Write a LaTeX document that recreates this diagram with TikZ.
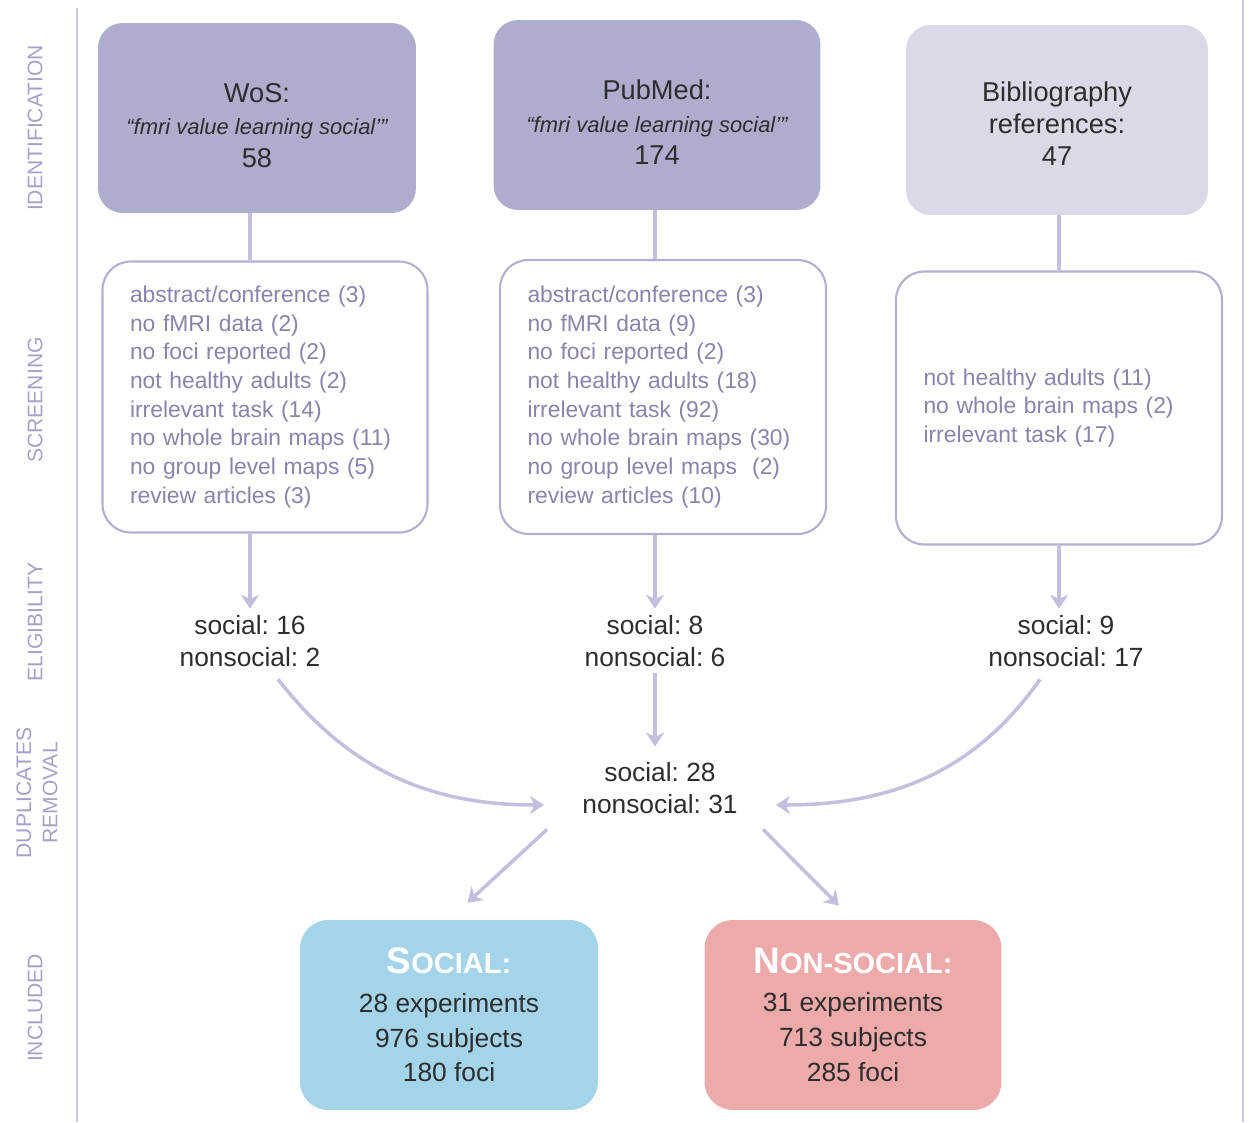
\documentclass[tikz,border=0pt]{standalone}
\usepackage{fontspec}
\setmainfont{Liberation Sans}
\usepackage{tikz}
\usetikzlibrary{arrows.meta}
\frenchspacing

\definecolor{srcdark}{RGB}{174,173,205}
\definecolor{srclight}{RGB}{218,218,231}
\definecolor{edgelav}{RGB}{180,174,210}
\definecolor{arrowlav}{RGB}{196,191,222}
\definecolor{framelav}{RGB}{205,200,226}
\definecolor{screentext}{RGB}{140,130,172}
\definecolor{phasetext}{RGB}{168,160,202}
\definecolor{darktext}{RGB}{45,45,45}
\definecolor{socialblue}{RGB}{164,212,233}
\definecolor{nonsocialred}{RGB}{237,170,170}

\newcommand{\toppad}{\rule{0pt}{19.5pt}}

\tikzset{
	source/.style={rounded corners=14pt, fill=srcdark, text=darktext, align=center, minimum height=3.8cm, font=\fontsize{15.5}{18.3}\selectfont},
	screen/.style={draw=edgelav, line width=1.2pt, rounded corners=16pt, fill=white, text=screentext, align=left, inner xsep=0.55cm, font=\fontsize{13}{16.3}\selectfont},
	count/.style={text=darktext, align=center, font=\fontsize{15}{18.7}\selectfont},
	result/.style={rounded corners=16pt, text=darktext, align=center, minimum height=3.8cm, font=\fontsize{15}{19.9}\selectfont},
	phase/.style={rotate=90, text=phasetext, align=center, font=\fontsize{12}{15}\selectfont},
	flow/.style={draw=arrowlav, line width=2pt},
	frameline/.style={draw=framelav, line width=1.2pt},
}

\begin{document}
\begin{tikzpicture}[x=0.02cm, y=-0.02cm, >={Stealth[length=8pt, width=10.5pt, inset=2.5pt]}]
	
	\useasboundingbox (0,0) rectangle (1250,1122);
	
	\draw[frameline] (77,8) -- (77,1122);
	\draw[frameline] (1243,0) -- (1243,1122);
	
	\node[phase] (identLbl) at (35,128) {IDENTIFICATION};
	
	\node[phase] (screenLbl) at (35,400) {SCREENING};
	
	\node[phase] (eligLbl) at (35,622) {ELIGIBILITY};
	
	\node[phase] (dupLbl) at (37,793) {DUPLICATES\\REMOVAL};
	
	\node[phase] (inclLbl) at (35,1008) {INCLUDED};
	
	\node[source, minimum width=6.36cm] (wos) at (257,118) {\toppad WoS:\\{\fontsize{12.5}{18.3}\selectfont\itshape “fmri value learning social’”}\\58};
	
	\node[source, minimum width=6.54cm] (pubmed) at (657,115) {\toppad PubMed:\\{\fontsize{12.5}{18.3}\selectfont\itshape “fmri value learning social’”}\\174};
	
	\node[source, fill=srclight, minimum width=6.04cm] (biblio) at (1057,120) {\rule{0pt}{15pt}Bibliography\\references:\\47};
	
	\node[screen, text width=5.4cm, minimum height=5.42cm] (wosScreen) at (265,397) {abstract/conference (3)\\no fMRI data (2)\\no foci reported (2)\\not healthy adults (2)\\irrelevant task (14)\\no whole brain maps (11)\\no group level maps (5)\\review articles (3)};
	
	\node[screen, text width=5.42cm, minimum height=5.48cm] (pubScreen) at (663,397) {abstract/conference (3)\\no fMRI data (9)\\no foci reported (2)\\not healthy adults (18)\\irrelevant task (92)\\no whole brain maps (30)\\no group level maps\ \ (2)\\review articles (10)};
	
	\node[screen, text width=5.42cm, minimum height=5.46cm] (bibScreen) at (1059,408) {not healthy adults (11)\\no whole brain maps (2)\\irrelevant task (17)};
	
	\node[count] (wosElig) at (250,641) {social: 16\\nonsocial: 2};
	
	\node[count] (pubElig) at (655,641) {social: 8\\nonsocial: 6};
	
	\node[count] (bibElig) at (1066,641) {social: 9\\nonsocial: 17};
	
	\node[count, inner xsep=0.7cm, inner ysep=0.3cm] (dup) at (660,788) {social: 28\\nonsocial: 31};
	
	\node[result, fill=socialblue, minimum width=5.96cm] (social) at (449,1015) {{\bfseries\color{white}\fontsize{21}{24}\selectfont S\fontsize{16.5}{24}\selectfont OCIAL:}\\[2pt]28 experiments\\976 subjects\\180 foci};
	
	\node[result, fill=nonsocialred, minimum width=5.94cm] (nonsocial) at (853,1015) {{\bfseries\color{white}\fontsize{21}{24}\selectfont N\fontsize{16.5}{24}\selectfont ON-SOCIAL:}\\[2pt]31 experiments\\713 subjects\\285 foci};
	
	\draw[flow] (wos.south -| wosElig) -- (wosScreen.north -| wosElig);
	\draw[flow] (pubmed.south -| pubElig) -- (pubScreen.north -| pubElig);
	\draw[flow] (biblio.south -| bibScreen) -- (bibScreen.north);
	
	\draw[flow,->] (wosScreen.south -| wosElig) -- (wosElig.north);
	\draw[flow,->] (pubScreen.south -| pubElig) -- (pubElig.north);
	\draw[flow,->] (bibScreen.south) -- (bibScreen.south |- bibElig.north);
	
	\draw[flow,->] (pubElig.south) -- (pubElig.south |- dup.north);
	\draw[flow,->] ([shift={(28,6)}]wosElig.south) to[out=-52, in=180] ([shift={(-3,17)}]dup.west);
	\draw[flow,->] ([shift={(-26,6)}]bibElig.south) to[out=-125, in=0] ([shift={(3,17)}]dup.east);
	
	\draw[flow,->, shorten >=0.5cm] (dup.south west) -- (social.north);
	\draw[flow,->, shorten >=0.4cm] ([shift={(-10,0)}]dup.south east) -- (nonsocial.north);
	
\end{tikzpicture}
\end{document}
